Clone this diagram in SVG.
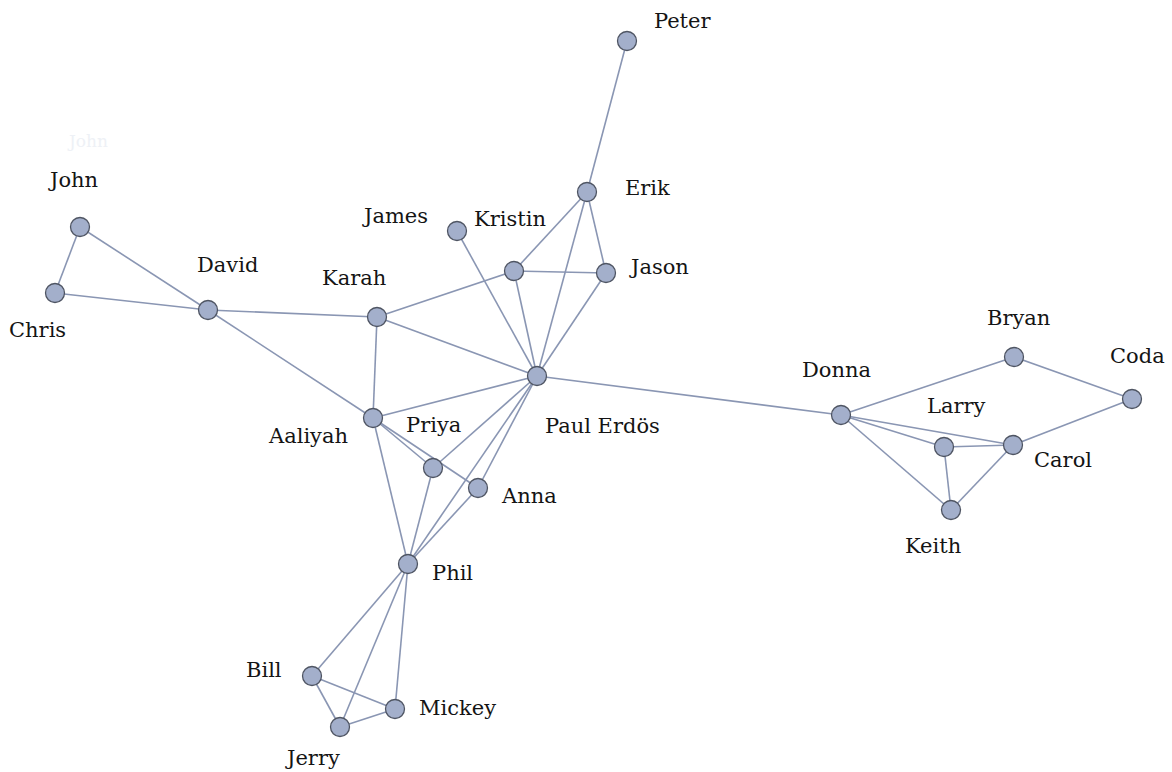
<svg xmlns="http://www.w3.org/2000/svg" width="1172" height="772" viewBox="0 0 1172 772">
<style>
.e{stroke:#8a96b3;stroke-width:1.6;fill:none}
.n{fill:#a3afcb;stroke:#4f5563;stroke-width:1.3}
.t{font-family:"DejaVu Serif","Liberation Serif",serif;font-size:21px;fill:#141414}
.g{font-family:"DejaVu Serif","Liberation Serif",serif;font-size:17px;fill:#eef1f6}
</style>
<rect width="1172" height="772" fill="#ffffff"/>
<text class="g" x="69" y="147">John</text>
<g id="edges">
<line class="e" x1="627" y1="41" x2="587" y2="192"/>
<line class="e" x1="587" y1="192" x2="514" y2="271"/>
<line class="e" x1="587" y1="192" x2="606" y2="273"/>
<line class="e" x1="587" y1="192" x2="537" y2="376"/>
<line class="e" x1="514" y1="271" x2="606" y2="273"/>
<line class="e" x1="514" y1="271" x2="377" y2="317"/>
<line class="e" x1="514" y1="271" x2="537" y2="376"/>
<line class="e" x1="606" y1="273" x2="537" y2="376"/>
<line class="e" x1="457" y1="231" x2="537" y2="376"/>
<line class="e" x1="80" y1="227" x2="55" y2="293"/>
<line class="e" x1="80" y1="227" x2="208" y2="310"/>
<line class="e" x1="55" y1="293" x2="208" y2="310"/>
<line class="e" x1="208" y1="310" x2="377" y2="317"/>
<line class="e" x1="208" y1="310" x2="373" y2="418"/>
<line class="e" x1="377" y1="317" x2="537" y2="376"/>
<line class="e" x1="377" y1="317" x2="373" y2="418"/>
<line class="e" x1="373" y1="418" x2="537" y2="376"/>
<line class="e" x1="373" y1="418" x2="433" y2="468"/>
<line class="e" x1="373" y1="418" x2="478" y2="488"/>
<line class="e" x1="373" y1="418" x2="408" y2="564"/>
<line class="e" x1="537" y1="376" x2="433" y2="468"/>
<line class="e" x1="537" y1="376" x2="478" y2="488"/>
<line class="e" x1="537" y1="376" x2="408" y2="564"/>
<line class="e" x1="433" y1="468" x2="408" y2="564"/>
<line class="e" x1="478" y1="488" x2="408" y2="564"/>
<line class="e" x1="408" y1="564" x2="312" y2="676"/>
<line class="e" x1="408" y1="564" x2="340" y2="727"/>
<line class="e" x1="408" y1="564" x2="395" y2="709"/>
<line class="e" x1="312" y1="676" x2="340" y2="727"/>
<line class="e" x1="312" y1="676" x2="395" y2="709"/>
<line class="e" x1="340" y1="727" x2="395" y2="709"/>
<line class="e" x1="537" y1="376" x2="841" y2="415"/>
<line class="e" x1="841" y1="415" x2="1014" y2="357"/>
<line class="e" x1="841" y1="415" x2="944" y2="447"/>
<line class="e" x1="841" y1="415" x2="1013" y2="445"/>
<line class="e" x1="841" y1="415" x2="951" y2="510"/>
<line class="e" x1="1014" y1="357" x2="1132" y2="399"/>
<line class="e" x1="1132" y1="399" x2="1013" y2="445"/>
<line class="e" x1="944" y1="447" x2="1013" y2="445"/>
<line class="e" x1="944" y1="447" x2="951" y2="510"/>
<line class="e" x1="1013" y1="445" x2="951" y2="510"/>
</g>
<g id="peter"><circle class="n" cx="627" cy="41" r="9.5"/><text class="t" x="654" y="28">Peter</text></g>
<g id="erik"><circle class="n" cx="587" cy="192" r="9.5"/><text class="t" x="625" y="195">Erik</text></g>
<g id="james"><circle class="n" cx="457" cy="231" r="9.5"/><text class="t" x="364" y="223">James</text></g>
<g id="kristin"><circle class="n" cx="514" cy="271" r="9.5"/><text class="t" x="474" y="226">Kristin</text></g>
<g id="jason"><circle class="n" cx="606" cy="273" r="9.5"/><text class="t" x="631" y="274">Jason</text></g>
<g id="john"><circle class="n" cx="80" cy="227" r="9.5"/><text class="t" x="50" y="187">John</text></g>
<g id="chris"><circle class="n" cx="55" cy="293" r="9.5"/><text class="t" x="9" y="337">Chris</text></g>
<g id="david"><circle class="n" cx="208" cy="310" r="9.5"/><text class="t" x="197" y="272">David</text></g>
<g id="karah"><circle class="n" cx="377" cy="317" r="9.5"/><text class="t" x="322" y="285">Karah</text></g>
<g id="paul"><circle class="n" cx="537" cy="376" r="9.5"/><text class="t" x="545" y="433">Paul Erdös</text></g>
<g id="aaliyah"><circle class="n" cx="373" cy="418" r="9.5"/><text class="t" x="269" y="443">Aaliyah</text></g>
<g id="priya"><circle class="n" cx="433" cy="468" r="9.5"/><text class="t" x="406" y="432">Priya</text></g>
<g id="anna"><circle class="n" cx="478" cy="488" r="9.5"/><text class="t" x="502" y="503">Anna</text></g>
<g id="phil"><circle class="n" cx="408" cy="564" r="9.5"/><text class="t" x="432" y="580">Phil</text></g>
<g id="bill"><circle class="n" cx="312" cy="676" r="9.5"/><text class="t" x="246" y="677">Bill</text></g>
<g id="mickey"><circle class="n" cx="395" cy="709" r="9.5"/><text class="t" x="419" y="715">Mickey</text></g>
<g id="jerry"><circle class="n" cx="340" cy="727" r="9.5"/><text class="t" x="287" y="765">Jerry</text></g>
<g id="donna"><circle class="n" cx="841" cy="415" r="9.5"/><text class="t" x="802" y="377">Donna</text></g>
<g id="bryan"><circle class="n" cx="1014" cy="357" r="9.5"/><text class="t" x="987" y="325">Bryan</text></g>
<g id="coda"><circle class="n" cx="1132" cy="399" r="9.5"/><text class="t" x="1110" y="363">Coda</text></g>
<g id="larry"><circle class="n" cx="944" cy="447" r="9.5"/><text class="t" x="927" y="413">Larry</text></g>
<g id="carol"><circle class="n" cx="1013" cy="445" r="9.5"/><text class="t" x="1034" y="467">Carol</text></g>
<g id="keith"><circle class="n" cx="951" cy="510" r="9.5"/><text class="t" x="905" y="553">Keith</text></g>
</svg>
